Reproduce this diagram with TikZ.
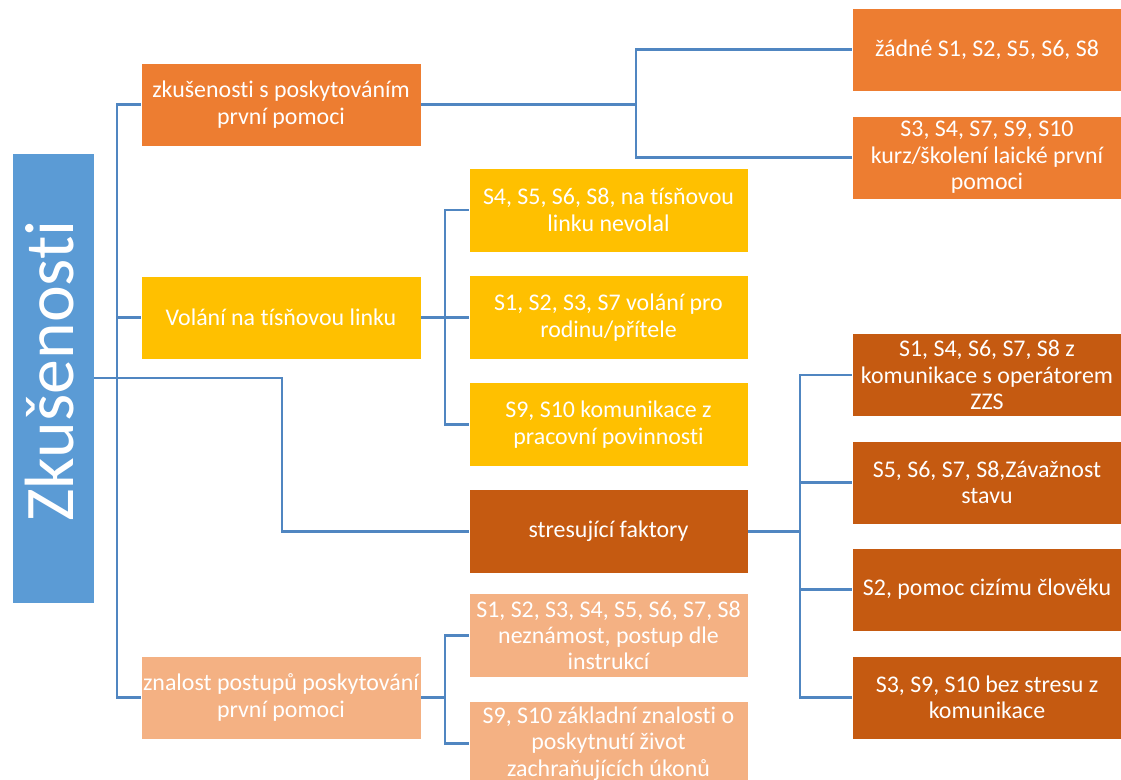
\documentclass[tikz,border=0pt]{standalone}
\usepackage{fontspec}
\setmainfont{Carlito}[Ligatures=NoCommon]
\begin{document}
\begin{tikzpicture}[x=1bp,y=-1bp,
  box/.style={rectangle, draw=white, line width=0.8bp, text=white, align=center,
    font=\fontsize{24}{26.5}\selectfont, inner sep=0pt},
  lvlone/.style={box, minimum width=280bp, minimum height=83bp},
  lvltwo/.style={box, minimum width=279bp, minimum height=84bp},
  lvlthree/.style={box, minimum width=270bp, minimum height=83bp},
  link/.style={draw=linkblue, line width=2.4bp}]
\definecolor{rootblue}{HTML}{5B9BD5}
\definecolor{orangeA}{HTML}{ED7D31}
\definecolor{yellowB}{HTML}{FFC000}
\definecolor{peachC}{HTML}{F4B183}
\definecolor{rustD}{HTML}{C55A11}
\definecolor{linkblue}{HTML}{5086C1}
\useasboundingbox (0,0) rectangle (1121,780);
\clip (0,0) rectangle (1121,780);

% root
\node[box, fill=rootblue, minimum width=82bp, minimum height=450bp] (root) at (53,378) {};
\node[text=white, rotate=90, font=\fontsize{70}{70}\selectfont] (rootlabel) at (50,371) {Zkušenosti};

% first level
\node[lvlone, fill=orangeA] (A) at (281,104.5) {zkušenosti s poskytováním\\první pomoci};
\node[lvlone, fill=yellowB] (B) at (281,317.5) {Volání na tísňovou linku};
\node[lvlone, fill=peachC] (C) at (281,697.5) {znalost postupů poskytování\\první pomoci};

% second level
\node[lvltwo, fill=yellowB] (B1) at (608.5,210) {S4, S5, S6, S8, na tísňovou\\linku nevolal};
\node[lvltwo, fill=yellowB] (B2) at (608.5,317.5) {S1, S2, S3, S7 volání pro\\rodinu/přítele};
\node[lvltwo, fill=yellowB] (B3) at (608.5,424.5) {S9, S10 komunikace z\\pracovní povinnosti};
\node[lvltwo, fill=rustD] (D) at (608.5,531.5) {stresující faktory};
\node[lvltwo, fill=peachC] (C1) at (608.5,635.5) {S1, S2, S3, S4, S5, S6, S7, S8\\neznámost, postup dle\\instrukcí};
\node[lvltwo, fill=peachC] (C2) at (608.5,743.5) {S9, S10 základní znalosti o\\poskytnutí život\\zachraňujících úkonů};

% third level
\node[lvlthree, fill=orangeA] (A1) at (987,49.5) {žádné S1, S2, S5, S6, S8};
\node[lvlthree, fill=orangeA] (A2) at (987,157.5) {S3, S4, S7, S9, S10\\kurz/školení laické první\\pomoci};
\node[lvlthree, fill=rustD] (D1) at (987,375) {S1, S4, S6, S7, S8 z\\komunikace s operátorem\\ZZS};
\node[lvlthree, fill=rustD] (D2) at (987,482.5) {S5, S6, S7, S8,Závažnost\\stavu};
\node[lvlthree, fill=rustD] (D3) at (987,589.5) {S2, pomoc cizímu člověku};
\node[lvlthree, fill=rustD] (D4) at (987,697.5) {S3, S9, S10 bez stresu z\\komunikace};

% trunk positions
\coordinate (tL) at (117,0);
\coordinate (tS) at (282,0);
\coordinate (tA) at (636,0);
\coordinate (tB) at (445,0);
\coordinate (tR) at (800,0);

% root to first level
\draw[link] (A.west) -| (tL |- C.west) -- (C.west);
\draw[link] (B.west) -- (B.west -| tL);
\draw[link] (root.east) -| (tS |- D.west) -- (D.west);

% first level to second/third level
\draw[link] (A.east) -- (A.east -| tA);
\draw[link] (A1.west) -| (tA |- A2.west) -- (A2.west);

\draw[link] (B.east) -- (B.east -| tB);
\draw[link] (B1.west) -| (tB |- B3.west) -- (B3.west);
\draw[link] (B2.west) -- (B2.west -| tB);

\draw[link] (C.east) -- (C.east -| tB);
\draw[link] (C1.west) -| (tB |- C2.west) -- (C2.west);

\draw[link] (D.east) -- (D.east -| tR);
\draw[link] (D1.west) -| (tR |- D4.west) -- (D4.west);
\draw[link] (D2.west) -- (D2.west -| tR);
\draw[link] (D3.west) -- (D3.west -| tR);
\end{tikzpicture}
\end{document}
